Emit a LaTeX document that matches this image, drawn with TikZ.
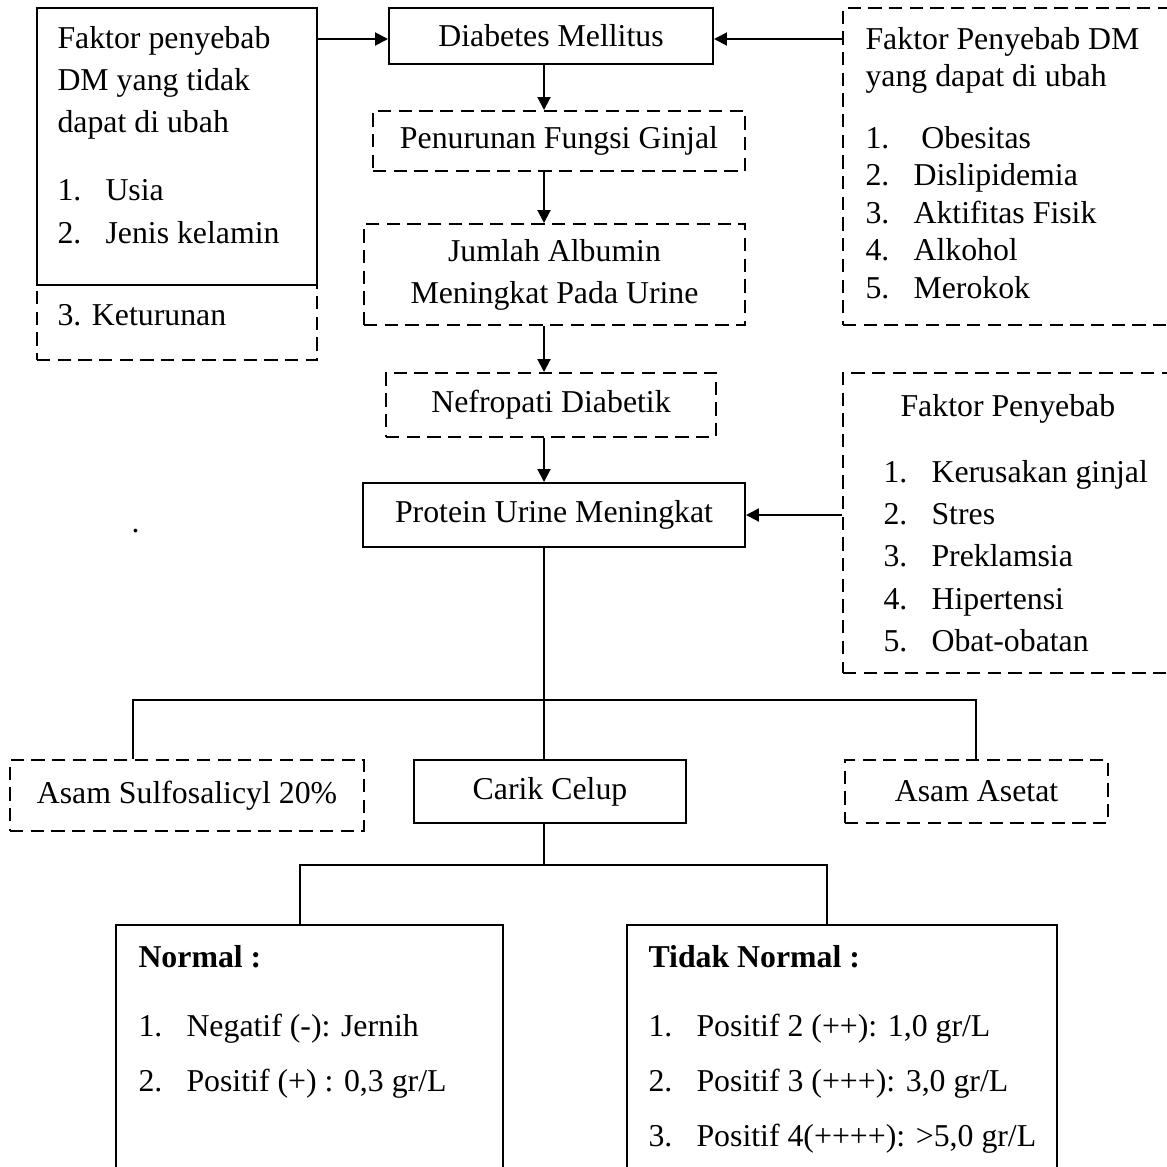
\documentclass[tikz,border=0pt]{standalone}
\usepackage{fontspec}
\setmainfont{Liberation Serif}
\usetikzlibrary{arrows.meta}
\newlength\unitpx
\setlength\unitpx{0.01326cm}
\newcommand{\lnum}[1]{\makebox[48\unitpx][l]{#1}}
\tikzset{
  solidbox/.style={draw, line width=0.75pt, inner sep=0pt},
  dashbox/.style={draw, line width=0.75pt, dash pattern=on 5pt off 2.8pt, inner sep=0pt},
  txt/.style={anchor=base west, inner sep=0pt},
  arr/.style={-{Triangle[length=4.9pt,width=4.9pt]}, line width=0.75pt},
  branch/.style={line width=0.5pt}
}
\begin{document}
\begin{tikzpicture}[x=\unitpx, y=-\unitpx, font=\fontsize{12}{15.8}\selectfont]
\useasboundingbox (0,0) rectangle (1167,1166);

% boxes
\node[solidbox, minimum width=280\unitpx, minimum height=277\unitpx] (lf) at (177,146.5) {};
\node[dashbox, minimum width=280\unitpx, minimum height=75\unitpx] (lk) at (177,322.5) {};
\node[solidbox, minimum width=324\unitpx, minimum height=56\unitpx] (dm) at (551,36) {Diabetes Mellitus};
\node[dashbox, minimum width=357\unitpx, minimum height=317\unitpx] (rt) at (1021.5,166.5) {};
\node[dashbox, minimum width=372\unitpx, minimum height=60\unitpx] (pfg) at (559,141) {Penurunan Fungsi Ginjal};
\node[dashbox, align=center, minimum width=381\unitpx, minimum height=101\unitpx] (jau) at (554.5,274.5) {Jumlah Albumin\\Meningkat Pada Urine};
\node[dashbox, minimum width=330\unitpx, minimum height=64\unitpx] (nd) at (551,405) {Nefropati Diabetik};
\node[solidbox, minimum width=382\unitpx, minimum height=64\unitpx] (pu) at (554,515) {Protein Urine Meningkat};
\node[dashbox, minimum width=357\unitpx, minimum height=300\unitpx] (mr) at (1021.5,523) {};
\node[dashbox, minimum width=354\unitpx, minimum height=71\unitpx] (as) at (187,795.5) {Asam Sulfosalicyl 20\%};
\node[solidbox, minimum width=272\unitpx, minimum height=63\unitpx] (cc) at (550,791.5) {Carik Celup};
\node[dashbox, minimum width=263\unitpx, minimum height=63\unitpx] (aa) at (976.5,791.5) {Asam Asetat};
\node[solidbox, minimum width=387\unitpx, minimum height=275\unitpx] (nm) at (309.5,1062.5) {};
\node[solidbox, minimum width=430\unitpx, minimum height=275\unitpx] (tn) at (842,1062.5) {};

% texts in the list boxes
\node[txt] (lf1) at (57,48) {Faktor penyebab};
\node[txt] (lf2) at (57,90) {DM yang tidak};
\node[txt] (lf3) at (57,132) {dapat di ubah};
\node[txt] (lf4) at (57,200) {\lnum{1.}Usia};
\node[txt] (lf5) at (57,243) {\lnum{2.}Jenis kelamin};
\node[txt] (lk1) at (57,325) {3. Keturunan};

\node[txt] (rt1) at (865,49) {Faktor Penyebab DM};
\node[txt] (rt2) at (865,86) {yang dapat di ubah};
\node[txt] (rt3) at (865,148) {\lnum{1.}\ Obesitas};
\node[txt] (rt4) at (865,185) {\lnum{2.}Dislipidemia};
\node[txt] (rt5) at (865,223) {\lnum{3.}Aktifitas Fisik};
\node[txt] (rt6) at (865,260) {\lnum{4.}Alkohol};
\node[txt] (rt7) at (865,298) {\lnum{5.}Merokok};

\node[txt] (mr1) at (900,416) {Faktor Penyebab};
\node[txt] (mr2) at (883,482) {\lnum{1.}Kerusakan ginjal};
\node[txt] (mr3) at (883,524) {\lnum{2.}Stres};
\node[txt] (mr4) at (883,566) {\lnum{3.}Preklamsia};
\node[txt] (mr5) at (883,609) {\lnum{4.}Hipertensi};
\node[txt] (mr6) at (883,651) {\lnum{5.}Obat-obatan};

\node[txt] (nm1) at (138,967) {\textbf{Normal :}};
\node[txt] (nm2) at (138,1036) {\lnum{1.}Negatif (-): Jernih};
\node[txt] (nm3) at (138,1091) {\lnum{2.}Positif (+) : 0,3 gr/L};

\node[txt] (tn1) at (648,967) {\textbf{Tidak Normal :}};
\node[txt] (tn2) at (648,1036) {\lnum{1.}Positif 2 (++): 1,0 gr/L};
\node[txt] (tn3) at (648,1091) {\lnum{2.}Positif 3 (+++): 3,0 gr/L};
\node[txt] (tn4) at (648,1146) {\lnum{3.}Positif 4(++++): >5,0 gr/L};

\node[txt] (dot) at (131,532) {.};

% arrows
\coordinate (spine) at (544,0);
\coordinate (arow) at (0,39);
\draw[arr] (lf.east |- arow) -- (dm.west |- arow);
\draw[arr] (rt.west |- arow) -- (dm.east |- arow);
\draw[arr] (dm.south -| spine) -- (pfg.north -| spine);
\draw[arr] (pfg.south -| spine) -- (jau.north -| spine);
\draw[arr] (jau.south -| spine) -- (nd.north -| spine);
\draw[arr] (nd.south -| spine) -- (pu.north -| spine);
\draw[arr] (mr.west |- pu.east) -- (pu.east);

% branches
\coordinate (fork1) at (544,700);
\coordinate (b1l) at (133,700);
\coordinate (b1r) at (976,700);
\draw[branch] (pu.south -| spine) -- (fork1) -- (cc.north -| fork1);
\draw[branch] (as.north -| b1l) -- (b1l) -- (b1r) -- (aa.north -| b1r);

\coordinate (fork2) at (544,865);
\coordinate (b2l) at (300,865);
\coordinate (b2r) at (827,865);
\draw[branch] (cc.south -| fork2) -- (fork2);
\draw[branch] (nm.north -| b2l) -- (b2l) -- (b2r) -- (tn.north -| b2r);
\end{tikzpicture}
\end{document}
